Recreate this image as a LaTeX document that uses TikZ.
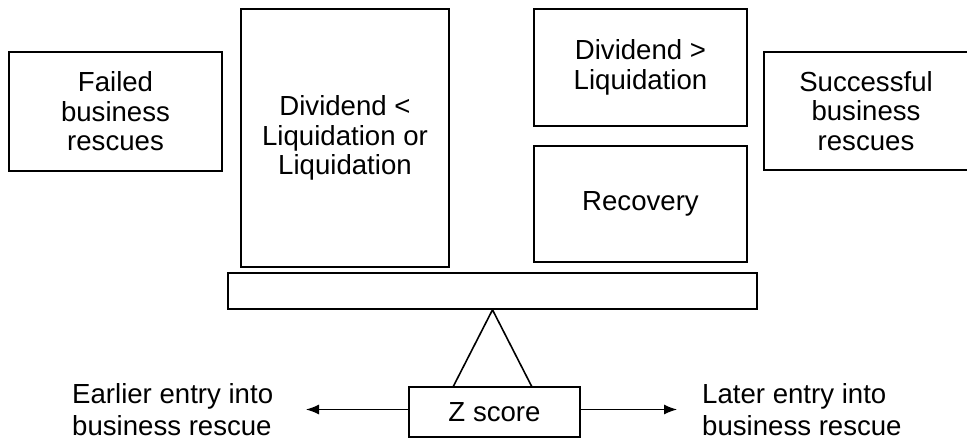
\documentclass[tikz,border=0pt]{standalone}
\usepackage{fontspec}
\setmainfont{Liberation Sans}
\usetikzlibrary{arrows.meta}
\begin{document}
\begin{tikzpicture}[x=1pt,y=-1pt,
  box/.style={draw,line width=1.6pt,inner sep=0pt,align=center,
    font=\fontsize{27.6}{29.5}\selectfont},
  lbl/.style={align=left,inner sep=0pt,anchor=north west,
    font=\fontsize{27.6}{32}\selectfont},
  arr/.style={line width=1.1pt,-{Latex[length=13pt,width=10pt]}},
  leg/.style={line width=1.6pt}]
\useasboundingbox (0,0) rectangle (967,442);
\node[box,minimum width=213pt,minimum height=119pt] (failed) at (115.5,111.5) {Failed\\business\\rescues};
\node[box,minimum width=208pt,minimum height=258pt] (divless) at (345,138) {Dividend <\\Liquidation or\\Liquidation};
\node[box,minimum width=213pt,minimum height=117pt] (divmore) at (640.5,67.5) {Dividend >\\Liquidation};
\node[box,minimum width=213pt,minimum height=116pt] (recovery) at (640.5,204) {Recovery};
\node[box,minimum width=204pt,minimum height=118pt] (success) at (866,111) {Successful\\business\\rescues};
\node[box,minimum width=529pt,minimum height=36pt] (bar) at (492.5,291) {};
\node[box,minimum width=171pt,minimum height=50pt] (z) at (494.5,412) {Z score};
\coordinate (bl) at (453,387);
\coordinate (br) at (532,387);
\draw[leg] (bl) -- (bar.south) -- (br);
\coordinate (lt) at (306,409.5);
\coordinate (rt) at (677,409.5);
\draw[arr] (lt -| z.west) -- (lt);
\draw[arr] (rt -| z.east) -- (rt);
\node[lbl] (early) at (72,383) {Earlier entry into\\business rescue};
\node[lbl] (late) at (702,383) {Later entry into\\business rescue};
\end{tikzpicture}
\end{document}
